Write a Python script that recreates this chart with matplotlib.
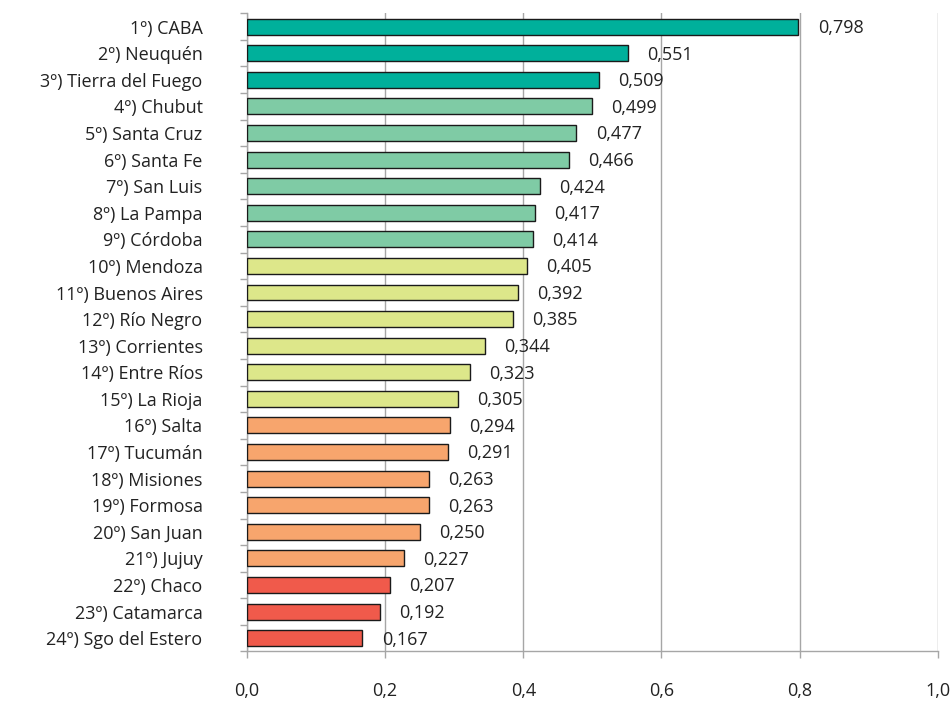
import matplotlib.pyplot as plt
import numpy as np

plt.rcParams["font.family"] = ["Open Sans", "DejaVu Sans"]

# data
provincias = [
    "CABA", "Neuquén", "Tierra del Fuego", "Chubut", "Santa Cruz", "Santa Fe",
    "San Luis", "La Pampa", "Córdoba", "Mendoza", "Buenos Aires", "Río Negro",
    "Corrientes", "Entre Ríos", "La Rioja", "Salta", "Tucumán", "Misiones",
    "Formosa", "San Juan", "Jujuy", "Chaco", "Catamarca", "Sgo del Estero",
]
valores = [
    0.798, 0.551, 0.509, 0.499, 0.477, 0.466, 0.424, 0.417, 0.414, 0.405,
    0.392, 0.385, 0.344, 0.323, 0.305, 0.294, 0.291, 0.263, 0.263, 0.250,
    0.227, 0.207, 0.192, 0.167,
]
grupo = [0, 0, 0, 1, 1, 1, 1, 1, 1, 2, 2, 2, 2, 2, 2, 3, 3, 3, 3, 3, 3, 4, 4, 4]
paleta = ["#00B09B", "#7FCBA5", "#DDE78A", "#F7A56D", "#F05A4B"]

etiquetas = [f"{i + 1}º) {p}" for i, p in enumerate(provincias)]
colores = [paleta[g] for g in grupo]
y = np.arange(len(valores))
fs = 13

fig = plt.figure(figsize=(9.52, 7.04), dpi=100)
ax = fig.add_axes([0.2595, 0.0746, 0.7255, 0.9065])

ax.barh(y, valores, height=0.6, color=colores, edgecolor="#1a1a1a",
        linewidth=1.0, zorder=3)

for yi, v in zip(y, valores):
    ax.annotate(f"{v:.3f}".replace(".", ","), (v, yi), xytext=(14, -1),
                textcoords="offset points", va="center", ha="left",
                fontsize=fs, color="#222222")

ax.set_xlim(0, 1.0)
ax.set_ylim(len(valores) - 0.5, -0.5)
ax.set_xticks(np.arange(0, 1.01, 0.2))
ax.set_xticklabels([f"{t:.1f}".replace(".", ",") for t in np.arange(0, 1.01, 0.2)])
ax.set_yticks(y)
ax.set_yticklabels(etiquetas)
ax.set_yticks(np.arange(-0.5, len(valores), 1), minor=True)

ax.grid(axis="x", color="#A6A6A6", linewidth=1.0, zorder=0)
for s in ["top", "right"]:
    ax.spines[s].set_visible(False)
for s in ["left", "bottom"]:
    ax.spines[s].set_color("#A6A6A6")
    ax.spines[s].set_linewidth(1.0)

ax.tick_params(axis="y", which="major", length=0, pad=32, labelsize=fs,
               labelcolor="#222222")
ax.tick_params(axis="y", which="minor", length=5, color="#A6A6A6", width=1)
ax.tick_params(axis="x", which="major", length=5, color="#A6A6A6", width=1,
               pad=17, labelsize=fs, labelcolor="#222222")

fig.savefig("out.png", dpi=100)
